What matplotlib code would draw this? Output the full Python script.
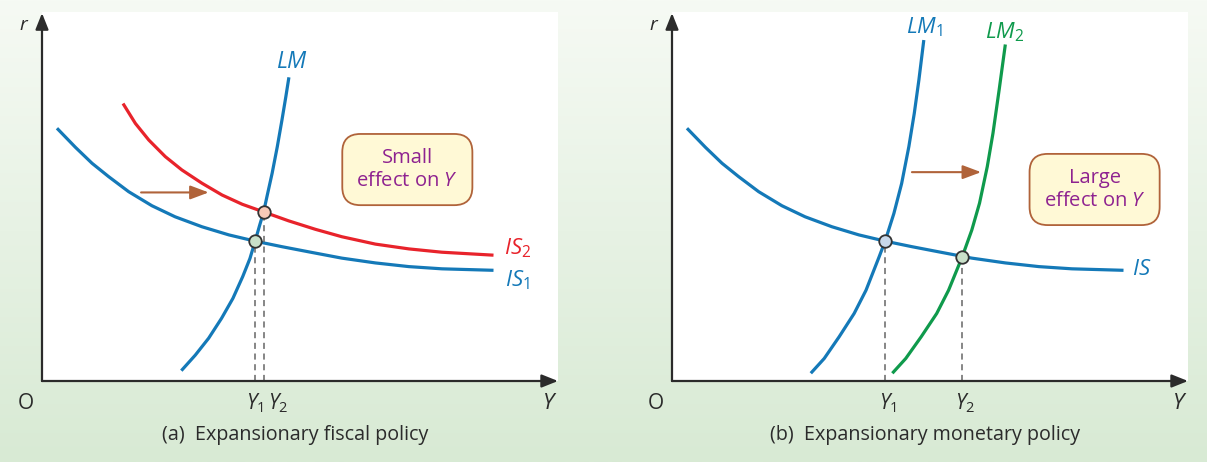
import numpy as np
import matplotlib
matplotlib.use('Agg')
import matplotlib.pyplot as plt

plt.rcParams['font.family'] = ['Open Sans', 'DejaVu Sans']
plt.rcParams['mathtext.fontset'] = 'custom'
plt.rcParams['mathtext.rm'] = 'Open Sans'
plt.rcParams['mathtext.it'] = 'Open Sans:italic'

# curve points (output Y, interest rate r), scale 0-100
is1_y = [2.9, 6.5, 9.7, 12.9, 16.8, 21.3, 25.8, 31.0, 36.2, 41.3, 46.5, 51.7, 58.1,
         64.6, 71.1, 77.5, 87.5]
is1_r = [68.5, 63.3, 59.0, 55.4, 51.3, 47.5, 44.5, 41.8, 39.6, 37.9, 36.4, 35.0, 33.3,
         32.0, 31.0, 30.4, 30.0]
is2_y = [15.7, 18.1, 20.7, 23.9, 27.1, 31.0, 34.9, 38.8, 43.0, 47.8, 53.0, 58.1, 64.6,
         71.1, 77.5, 87.5]
is2_r = [75.2, 69.8, 65.3, 60.8, 57.2, 53.6, 50.4, 47.9, 45.8, 43.4, 41.1, 39.1, 37.1,
         35.8, 34.9, 34.1]
lm_y = [27.0, 29.7, 32.3, 34.8, 37.0, 38.9, 40.3, 41.3, 42.2, 42.95, 43.6, 44.6, 45.6,
        46.5, 47.25, 47.85]
lm_r = [2.8, 7.0, 11.6, 17.0, 22.4, 28.3, 33.2, 37.9, 42.3, 45.8, 50.0, 56.3, 63.5,
        70.7, 77.0, 82.3]

lm1_y = [26.9, 29.5, 32.4, 35.3, 37.6, 40.1, 41.3, 43.0, 44.5, 45.9, 46.95, 47.85, 48.8]
lm1_r = [2.1, 6.1, 12.0, 18.3, 24.6, 33.5, 37.9, 45.4, 53.5, 63.5, 72.5, 81.6, 92.4]
lm2_y = [42.7, 45.3, 48.3, 51.3, 53.6, 56.2, 58.1, 59.6, 61.1, 62.2, 63.4, 64.6]
lm2_r = [2.1, 6.1, 12.0, 18.3, 24.6, 33.5, 40.9, 48.2, 58.1, 67.1, 78.9, 91.2]

# equilibrium points
eq_a_y = [41.3, 42.95]
eq_a_r = [37.9, 45.8]
eq_b_y = [41.3, 56.2]
eq_b_r = [37.9, 33.6]

BLUE = '#1479b8'
RED = '#e8232b'
GREEN = '#0f9a4c'
BROWN = '#b0633a'
PURPLE = '#8e2290'
AXC = '#2b2b2b'

W, H = 1207, 462
fig = plt.figure(figsize=(W / 100, H / 100), dpi=100)

# background gradient
bg = fig.add_axes([0, 0, 1, 1], zorder=-10)
grad = np.linspace(0, 1, 256).reshape(-1, 1)
top = np.array([246, 250, 244]) / 255
bot = np.array([216, 234, 212]) / 255
img = top + (bot - top) * grad[:, :, None]
bg.imshow(img, aspect='auto', extent=[0, 1, 0, 1], origin='upper')
bg.set_axis_off()


def make_axes(x0):
    ax = fig.add_axes([x0 / W, (H - 381) / H, 516 / W, 369 / H])
    ax.set_xlim(0, 100)
    ax.set_ylim(0, 100)
    ax.set_facecolor('white')
    for s in ax.spines.values():
        s.set_visible(False)
    ax.set_xticks([])
    ax.set_yticks([])
    arrow = dict(arrowstyle='-|>,head_length=0.7,head_width=0.28', color=AXC, lw=1.6,
                 shrinkA=0, shrinkB=0, mutation_scale=14)
    ax.annotate('', xy=(1.0, 0), xytext=(0, 0), xycoords='axes fraction',
                arrowprops=arrow, annotation_clip=False)
    ax.annotate('', xy=(0, 0.997), xytext=(0, 0), xycoords='axes fraction',
                arrowprops=arrow, annotation_clip=False)
    ax.text(-0.031, -0.06, 'O', transform=ax.transAxes, ha='center', va='center',
            fontsize=15, color=AXC)
    ax.text(0.983, -0.06, '$Y$', transform=ax.transAxes, ha='center', va='center',
            fontsize=16, color=AXC)
    ax.text(-0.035, 0.965, '$r$', transform=ax.transAxes, ha='center', va='center',
            fontsize=14, color=AXC)
    return ax


def curve(ax, xs, ys, color):
    ax.plot(xs, ys, color=color, lw=2.3, solid_capstyle='butt', solid_joinstyle='round')


def eq_points(ax, xs, ys, fills):
    for x, y, fc in zip(xs, ys, fills):
        ax.plot([x, x], [0, y], color='#666666', lw=1.1, dashes=(4, 3), zorder=2)
        ax.plot(x, y, 'o', ms=9, mfc=fc, mec='#333333', mew=1.3, zorder=5)


def shift_arrow(ax, x0, x1, y):
    ax.annotate('', xy=(x1, y), xytext=(x0, y),
                arrowprops=dict(arrowstyle='-|>,head_length=0.8,head_width=0.3',
                                color=BROWN, lw=1.5, shrinkA=0, shrinkB=0,
                                mutation_scale=14))


def note_box(ax, x, y, txt):
    ax.text(x, y, txt, ha='center', va='center', fontsize=14.5, color=PURPLE,
            linespacing=1.2, zorder=6,
            bbox=dict(boxstyle='round,pad=0.7,rounding_size=0.9', fc='#fff9d6',
                      ec=BROWN, lw=1.3))


# (a) fiscal policy
ax1 = make_axes(42)
curve(ax1, is1_y, is1_r, BLUE)
curve(ax1, is2_y, is2_r, RED)
curve(ax1, lm_y, lm_r, BLUE)
eq_points(ax1, eq_a_y, eq_a_r, ['#c9e0c9', '#f7c9b7'])
shift_arrow(ax1, 19.2, 32.3, 51.1)
note_box(ax1, 70.8, 57.3, 'Small\neffect on $Y$')
ax1.text(48.4, 86.4, '$LM$', ha='center', va='center', fontsize=16.5, color=BLUE)
ax1.text(92.1, 36.0, '$IS_{\\mathrm{2}}$', ha='center', va='center', fontsize=16, color=RED)
ax1.text(92.1, 27.4, '$IS_{\\mathrm{1}}$', ha='center', va='center', fontsize=16, color=BLUE)
ax1.text(41.3, -6, '$Y_{\\mathrm{1}}$', ha='center', va='center', fontsize=15, color=AXC, clip_on=False)
ax1.text(45.8, -6, '$Y_{\\mathrm{2}}$', ha='center', va='center', fontsize=15, color=AXC, clip_on=False)
ax1.text(0.49, -0.146, '(a)  Expansionary fiscal policy', transform=ax1.transAxes,
         ha='center', va='center', fontsize=14.2, color=AXC)

# (b) monetary policy
ax2 = make_axes(672)
curve(ax2, is1_y, is1_r, BLUE)
curve(ax2, lm1_y, lm1_r, BLUE)
curve(ax2, lm2_y, lm2_r, GREEN)
eq_points(ax2, eq_b_y, eq_b_r, ['#c8d8ea', '#c9e0c9'])
shift_arrow(ax2, 46.5, 59.9, 56.6)
note_box(ax2, 81.9, 51.9, 'Large\neffect on $Y$')
ax2.text(49.0, 95.9, '$LM_{\\mathrm{1}}$', ha='center', va='center', fontsize=16, color=BLUE)
ax2.text(64.5, 94.6, '$LM_{\\mathrm{2}}$', ha='center', va='center', fontsize=16, color=GREEN)
ax2.text(91.1, 30.1, '$IS$', ha='center', va='center', fontsize=16, color=BLUE)
ax2.text(41.9, -6, '$Y_{\\mathrm{1}}$', ha='center', va='center', fontsize=15, color=AXC, clip_on=False)
ax2.text(56.8, -6, '$Y_{\\mathrm{2}}$', ha='center', va='center', fontsize=15, color=AXC, clip_on=False)
ax2.text(0.49, -0.146, '(b)  Expansionary monetary policy', transform=ax2.transAxes,
         ha='center', va='center', fontsize=14.2, color=AXC)

fig.savefig('out.png', dpi=100)
